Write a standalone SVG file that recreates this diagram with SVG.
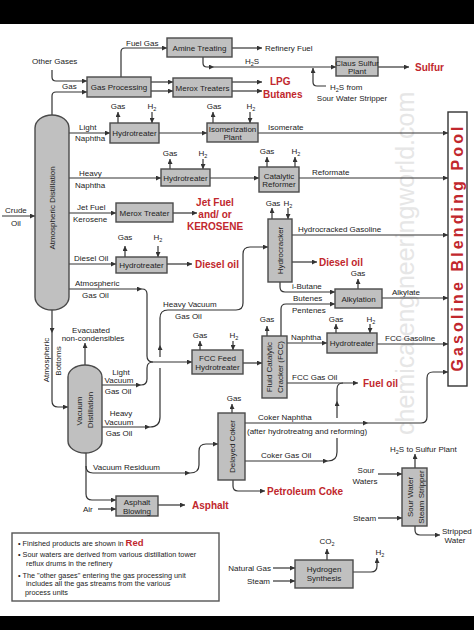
<svg xmlns="http://www.w3.org/2000/svg" width="474" height="630" viewBox="0 0 474 630">
<defs>
<marker id="ah" viewBox="0 0 10 10" refX="10" refY="5" markerWidth="6" markerHeight="5" markerUnits="userSpaceOnUse" orient="auto"><path d="M0,0L10,5L0,10z" fill="#333"/></marker>
<style>
.bx{fill:#c0c0c0;stroke:#4a4a4a;stroke-width:1.4}
.t{font-family:"Liberation Sans",Arial,sans-serif;font-size:8px;fill:#222}
.m{text-anchor:middle}
.e{text-anchor:end}
.r{font-family:"Liberation Sans",Arial,sans-serif;font-size:10px;font-weight:bold;fill:#c1272d}
.c path{fill:none;stroke:#333;stroke-width:1.2}
.a{marker-end:url(#ah)}
.n{font-family:"Liberation Sans",Arial,sans-serif;font-size:7.3px;fill:#222}
.wm{font-family:"Liberation Sans",Arial,sans-serif;font-size:25px;fill:#e6e6e6}
</style>
</defs>
<rect x="0" y="0" width="474" height="630" fill="#fff"/>
<rect x="0" y="0" width="474" height="24" fill="#000"/>
<rect x="0" y="616" width="474" height="14" fill="#000"/>
<text class="wm" transform="translate(414,435) rotate(-90)">chemicalengineeringworld.com</text>

<g id="connectors" class="c">
<path class="a" d="M121,77V52Q121,48 125,48H167"/>
<path class="a" d="M232,48H262"/>
<path class="a" d="M203,57V63Q203,67 207,67H214"/>
<path class="a" d="M214,67H336"/>
<path class="a" d="M378,67H409"/>
<path class="a" d="M326,86H317Q313,86 313,82V68"/>
<path class="a" d="M52,70V77Q52,81 56,81H87"/>
<path class="a" d="M52,116V96Q52,92 56,92H87"/>
<path class="a" d="M151,82H173"/>
<path class="a" d="M151,91H173"/>
<path class="a" d="M232,82H262"/>
<path class="a" d="M232,91H262"/>
<path class="a" d="M69,133H110"/>
<path class="a" d="M118,123V112"/>
<path class="a" d="M152,112V123"/>
<path class="a" d="M159,133H207"/>
<path class="a" d="M213,123V112"/>
<path class="a" d="M250,112V123"/>
<path class="a" d="M258,133H448"/>
<path class="a" d="M69,178H161"/>
<path class="a" d="M170,169V159"/>
<path class="a" d="M203,159V169"/>
<path class="a" d="M210,178H259"/>
<path class="a" d="M267,167V157"/>
<path class="a" d="M295,167V157"/>
<path class="a" d="M299,178H448"/>
<path class="a" d="M69,213H116"/>
<path class="a" d="M173,213H197"/>
<path class="a" d="M69,264H116"/>
<path class="a" d="M125,257V246"/>
<path class="a" d="M158,246V257"/>
<path class="a" d="M167,264H192"/>
<path class="a" d="M69,289H142"/>
<path class="a" d="M142,289Q147,289 147,294V356Q147,362 153,362H192"/>
<path class="a" d="M102,385H141"/>
<path d="M141,385Q147,385 147,379V368Q147,362 153,362"/>
<path class="a" d="M102,427H150"/>
<path d="M150,427Q160,427 160,417V368"/>
<path class="a" d="M160,357V345"/>
<path class="a" d="M160,345V318Q160,310 168,310H236Q243,310 243,303V254Q243,247 250,247H268"/>
<path class="a" d="M52,310V333"/>
<path class="a" d="M52,333V401Q52,407 58,407H68"/>
<path class="a" d="M85,365V343"/>
<path class="a" d="M200,350V341"/>
<path class="a" d="M233,341V350"/>
<path class="a" d="M243,363H262"/>
<path class="a" d="M267,336V326"/>
<path class="a" d="M281,336V309Q281,304 286,304H335"/>
<path class="a" d="M287,343H327"/>
<path class="a" d="M336,333V324"/>
<path class="a" d="M370,324V333"/>
<path class="a" d="M377,344H448"/>
<path class="a" d="M287,383H358"/>
<path class="a" d="M272,219V208"/>
<path class="a" d="M288,208V219"/>
<path class="a" d="M292,235H448"/>
<path class="a" d="M292,262H317"/>
<path class="a" d="M280,282V287Q280,292 285,292H335"/>
<path class="a" d="M358,289V279"/>
<path class="a" d="M382,298H448"/>
<path class="a" d="M86,453V494Q86,500 92,500H116"/>
<path class="a" d="M86,466Q86,473 93,473H190"/>
<path class="a" d="M190,473Q199,473 199,465V451Q199,444 206,444H218"/>
<path class="a" d="M98,509H116"/>
<path class="a" d="M158,505H185"/>
<path class="a" d="M232,413V404"/>
<path class="a" d="M245,423H368"/>
<path class="a" d="M368,423H421Q427,423 427,417V378Q427,372 433,372H448"/>
<path class="a" d="M245,461H328"/>
<path d="M328,461Q337,461 337,452V438"/>
<path class="a" d="M337,418V401"/>
<path d="M337,401V389Q337,383 343,383"/>
<path class="a" d="M233,480V486Q233,491 238,491H265"/>
<path class="a" d="M415,468V454"/>
<path class="a" d="M378,474H402"/>
<path class="a" d="M378,518H402"/>
<path class="a" d="M415,526V530Q415,535 420,535H440"/>
<path class="a" d="M327,560V549"/>
<path class="a" d="M273,568H295"/>
<path class="a" d="M273,581H295"/>
<path class="a" d="M353,572H371Q377,572 377,566V558"/>
<path class="a" d="M2,216H35"/>
</g>

<g id="labels">
<text class="t" x="126" y="46">Fuel  Gas</text>
<text class="t" x="265" y="51">Refinery Fuel</text>
<text class="t" x="245" y="64">H<tspan font-size="5.5" dy="2">2</tspan><tspan dy="-2">S</tspan></text>
<text class="r" x="415" y="71">Sulfur</text>
<text class="t" x="330" y="90">H<tspan font-size="5.5" dy="2">2</tspan><tspan dy="-2">S from</tspan></text>
<text class="t m" x="352" y="101">Sour Water Stripper</text>
<text class="t" x="32" y="64">Other Gases</text>
<text class="t" x="62" y="89">Gas</text>
<text class="r" x="270" y="85">LPG</text>
<text class="r" x="263" y="98">Butanes</text>
<text class="t m" x="118" y="109">Gas</text>
<text class="t m" x="152" y="109">H<tspan font-size="5.5" dy="2">2</tspan></text>
<text class="t m" x="214" y="109">Gas</text>
<text class="t m" x="251" y="109">H<tspan font-size="5.5" dy="2">2</tspan></text>
<text class="t" x="79" y="130">Light</text>
<text class="t" x="75" y="141">Naphtha</text>
<text class="t" x="268" y="130">Isomerate</text>
<text class="t m" x="170" y="156">Gas</text>
<text class="t m" x="203" y="156">H<tspan font-size="5.5" dy="2">2</tspan></text>
<text class="t m" x="267" y="154">Gas</text>
<text class="t m" x="296" y="154">H<tspan font-size="5.5" dy="2">2</tspan></text>
<text class="t" x="79" y="176">Heavy</text>
<text class="t" x="75" y="188">Naphtha</text>
<text class="t" x="312" y="175">Reformate</text>
<text class="t" x="5" y="213">Crude</text>
<text class="t m" x="16" y="226">Oil</text>
<text class="t" x="77" y="210">Jet Fuel</text>
<text class="t" x="73" y="222">Kerosene</text>
<text class="r m" x="215" y="206">Jet Fuel</text>
<text class="r m" x="215" y="218">and/ or</text>
<text class="r m" x="215" y="230">KEROSENE</text>
<text class="t m" x="125" y="240">Gas</text>
<text class="t m" x="158" y="240">H<tspan font-size="5.5" dy="2">2</tspan></text>
<text class="t" x="74" y="261">Diesel Oil</text>
<text class="r" x="195" y="268">Diesel oil</text>
<text class="t" x="75" y="286">Atmospheric</text>
<text class="t" x="82" y="298">Gas Oil</text>
<text class="t" x="163" y="307">Heavy Vacuum</text>
<text class="t" x="175" y="319">Gas Oil</text>
<text class="t m" x="273" y="206">Gas</text>
<text class="t m" x="288" y="206">H<tspan font-size="5.5" dy="2">2</tspan></text>
<text class="t" x="298" y="232">Hydrocracked Gasoline</text>
<text class="r" x="319" y="266">Diesel oil</text>
<text class="t" x="292" y="289">i-Butane</text>
<text class="t" x="293" y="301">Butenes</text>
<text class="t" x="292" y="313">Pentenes</text>
<text class="t m" x="358" y="276">Gas</text>
<text class="t" x="392" y="295">Alkylate</text>
<text class="t m" x="91" y="333">Evacuated</text>
<text class="t m" x="93" y="341">non-condensibles</text>
<text class="t m" transform="translate(49,360) rotate(-90)">Atmospheric</text>
<text class="t m" transform="translate(61,361) rotate(-90)">Bottoms</text>
<text class="t m" x="200" y="338">Gas</text>
<text class="t m" x="234" y="338">H<tspan font-size="5.5" dy="2">2</tspan></text>
<text class="t m" x="267" y="322">Gas</text>
<text class="t m" x="336" y="322">Gas</text>
<text class="t m" x="371" y="322">H<tspan font-size="5.5" dy="2">2</tspan></text>
<text class="t" x="291" y="340">Naphtha</text>
<text class="t" x="385" y="341">FCC Gasoline</text>
<text class="t" x="292" y="380">FCC Gas Oil</text>
<text class="r" x="363" y="387">Fuel oil</text>
<text class="t m" x="121" y="375">Light</text>
<text class="t m" x="119" y="383">Vacuum</text>
<text class="t m" x="118" y="394">Gas Oil</text>
<text class="t m" x="121" y="416">Heavy</text>
<text class="t m" x="119" y="424.5">Vacuum</text>
<text class="t m" x="119" y="435.5">Gas Oil</text>
<text class="t m" x="234" y="401">Gas</text>
<text class="t" x="258" y="420">Coker Naphtha</text>
<text class="t" x="247" y="434">(after hydrotreatng and reforming)</text>
<text class="t" x="261" y="458">Coker Gas Oil</text>
<text class="r" x="267" y="495">Petroleum Coke</text>
<text class="t" x="93" y="470">Vacuum Residuum</text>
<text class="t" x="83" y="512">Air</text>
<text class="r" x="192" y="509">Asphalt</text>
<text class="t" x="390" y="452">H<tspan font-size="5.5" dy="2">2</tspan><tspan dy="-2">S to Sulfur Plant</tspan></text>
<text class="t m" x="366" y="473">Sour</text>
<text class="t m" x="365" y="484">Waters</text>
<text class="t" x="353" y="521">Steam</text>
<text class="t" x="442" y="534">Stripped</text>
<text class="t m" x="455" y="543">Water</text>
<text class="t m" x="327" y="544">CO<tspan font-size="5.5" dy="2">2</tspan></text>
<text class="t e" x="271" y="571">Natural Gas</text>
<text class="t e" x="270" y="584">Steam</text>
<text class="t m" x="380" y="555">H<tspan font-size="5.5" dy="2">2</tspan></text>
</g>

<g id="atmospheric-distillation">
<path class="bx" d="M35,128A17,13 0 0 1 69,128V297A17,13 0 0 1 35,297Z"/>
<text class="t m" transform="translate(55,208) rotate(-90)">Atmospheric  Distillation</text>
</g>
<g id="vacuum-distillation">
<path class="bx" d="M68,377A17,12 0 0 1 102,377V441A17,12 0 0 1 68,441Z"/>
<text class="t m" transform="translate(82,411) rotate(-90)">Vacuum</text>
<text class="t m" transform="translate(93,410) rotate(-90)">Distillation</text>
</g>
<g id="amine-treating"><rect class="bx" x="167" y="38" width="65" height="19"/><text class="t m" x="199.5" y="50.5">Amine Treating</text></g>
<g id="claus-sulfur-plant"><rect class="bx" x="336" y="57" width="42" height="19"/><text class="t m" x="357" y="65.5">Claus Sulfur</text><text class="t m" x="357" y="74">Plant</text></g>
<g id="gas-processing"><rect class="bx" x="87" y="77" width="64" height="20"/><text class="t m" x="119" y="90">Gas Processing</text></g>
<g id="merox-treaters"><rect class="bx" x="173" y="78" width="59" height="19"/><text class="t m" x="202.5" y="90.5">Merox Treaters</text></g>
<g id="hydrotreater-1"><rect class="bx" x="110" y="123" width="49" height="20"/><text class="t m" x="134.5" y="136">Hydrotreater</text></g>
<g id="isomerization-plant"><rect class="bx" x="207" y="123" width="51" height="19"/><text class="t m" x="232.5" y="131.5">Isomerization</text><text class="t m" x="232.5" y="139.5">Plant</text></g>
<g id="hydrotreater-2"><rect class="bx" x="161" y="169" width="49" height="17"/><text class="t m" x="185.5" y="180.5">Hydrotreater</text></g>
<g id="catalytic-reformer"><rect class="bx" x="259" y="167" width="40" height="25"/><text class="t m" x="279" y="178.5">Catalytic</text><text class="t m" x="279" y="187">Reformer</text></g>
<g id="merox-treater"><rect class="bx" x="116" y="203" width="57" height="19"/><text class="t m" x="144.5" y="215.5">Merox Treater</text></g>
<g id="hydrotreater-3"><rect class="bx" x="116" y="257" width="51" height="16"/><text class="t m" x="141.5" y="268">Hydrotreater</text></g>
<g id="hydrocracker"><rect class="bx" x="268" y="219" width="24" height="63"/><text class="t m" transform="translate(283,250.5) rotate(-90)">Hydrocracker</text></g>
<g id="alkylation"><rect class="bx" x="335" y="289" width="47" height="19"/><text class="t m" x="358.5" y="301.5">Alkylation</text></g>
<g id="fcc-feed-hydrotreater"><rect class="bx" x="192" y="350" width="51" height="24"/><text class="t m" x="217.5" y="361">FCC Feed</text><text class="t m" x="217.5" y="370">Hydrotreater</text></g>
<g id="fcc"><rect class="bx" x="262" y="336" width="25" height="62"/><text class="t m" transform="translate(272,367) rotate(-90)">Fluid Catalytic</text><text class="t m" transform="translate(283,367) rotate(-90)">Cracker (FCC)</text></g>
<g id="hydrotreater-4"><rect class="bx" x="327" y="333" width="50" height="20"/><text class="t m" x="352" y="346">Hydrotreater</text></g>
<g id="delayed-coker"><rect class="bx" x="218" y="413" width="27" height="67"/><text class="t m" transform="translate(234.5,446.5) rotate(-90)">Delayed Coker</text></g>
<g id="asphalt-blowing"><rect class="bx" x="116" y="496" width="42" height="20"/><text class="t m" x="137" y="505">Asphalt</text><text class="t m" x="137" y="513.5">Blowing</text></g>
<g id="sour-water-stripper"><rect class="bx" x="402" y="468" width="25" height="58"/><text class="t m" transform="translate(413,497) rotate(-90)">Sour Water</text><text class="t m" transform="translate(424,497) rotate(-90)">Steam Stripper</text></g>
<g id="hydrogen-synthesis"><rect class="bx" x="295" y="560" width="58" height="28"/><text class="t m" x="324" y="572">Hydrogen</text><text class="t m" x="324" y="581">Synthesis</text></g>
<g id="gasoline-blending-pool"><rect x="448" y="112" width="19" height="274" fill="#fff" stroke="#333" stroke-width="1.4"/><text transform="translate(463,249) rotate(-90)" text-anchor="middle" font-family="Liberation Sans, Arial, sans-serif" font-size="16" font-weight="bold" fill="#c1272d" textLength="245" lengthAdjust="spacing">Gasoline Blending Pool</text></g>
<g id="notes">
<rect x="12" y="533" width="207" height="68" fill="#fff" stroke="#555" stroke-width="1.4"/>
<text class="n" x="18" y="545.5">•  Finished products are shown in <tspan font-size="9.5" font-weight="bold" fill="#c1272d">Red</tspan></text>
<text class="n" x="18" y="556.5">•  Sour waters are derived from various distillation tower</text>
<text class="n" x="26" y="565.5">reflux drums in the refinery</text>
<text class="n" x="18" y="577.5">•  The "other gases" entering the gas processing unit</text>
<text class="n" x="26" y="585.5">includes all the gas streams from the various</text>
<text class="n" x="25" y="595">process units</text>
</g>
</svg>
